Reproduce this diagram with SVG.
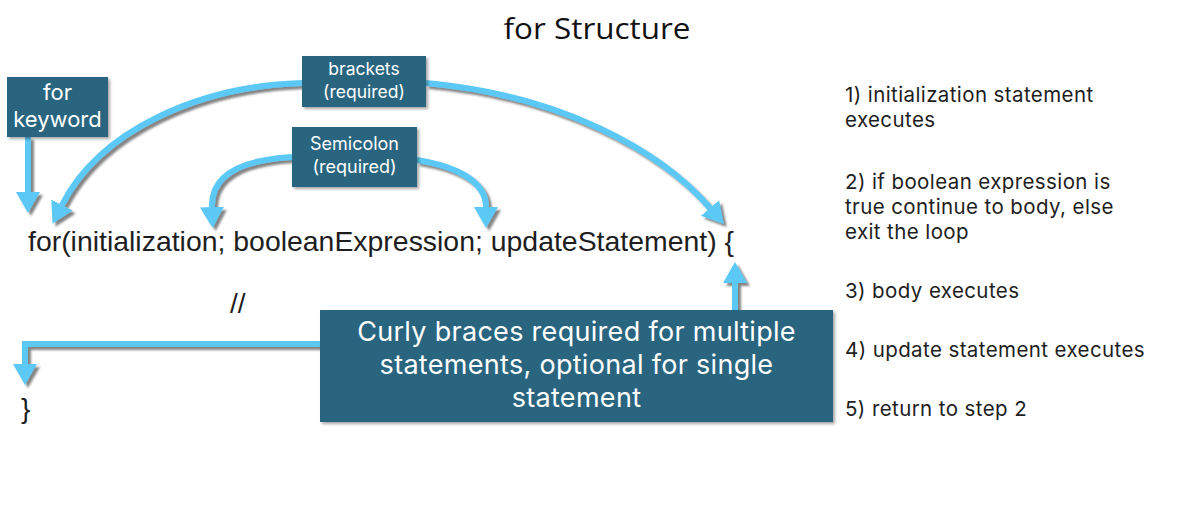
<svg xmlns="http://www.w3.org/2000/svg" width="1194" height="506" viewBox="0 0 1194 506">
<style>
.box{fill:#2b6580;filter:url(#bs);}
.bt{fill:#ffffff;font-family:Inter,"Open Sans",sans-serif;text-anchor:middle;}
.con{fill:none;stroke:#5cc8f5;stroke-width:6;}
.code{fill:#1e1e1e;font-family:"Liberation Sans",Arial,sans-serif;font-size:28px;}
.list{fill:#1e1e1e;font-family:Inter,"Open Sans",sans-serif;font-size:20.5px;letter-spacing:0.4px;}
</style>
<defs>
<filter id="bs" x="-10%" y="-10%" width="130%" height="130%">
<feDropShadow dx="2" dy="2" stdDeviation="1.5" flood-color="#000" flood-opacity="0.35"/>
</filter>
<filter id="as" x="-10%" y="-10%" width="130%" height="130%">
<feDropShadow dx="3" dy="3" stdDeviation="1" flood-color="#333" flood-opacity="0.6"/>
</filter>
<marker id="ah" viewBox="0 -13 22 26" refX="0" refY="0" markerWidth="22" markerHeight="26" markerUnits="userSpaceOnUse" orient="auto">
<path d="M0,-12 L21,0 L0,12 z" fill="#5cc8f5"/>
</marker>
</defs>
<rect width="1194" height="506" fill="#ffffff"/>
<text x="597" y="39" font-family="'Open Sans','Noto Sans',sans-serif" font-size="30" fill="#111" text-anchor="middle" textLength="187" lengthAdjust="spacingAndGlyphs">for Structure</text>

<g id="connectors" filter="url(#as)">
<path class="con" d="M28,137 V192" marker-end="url(#ah)"/>
<path class="con" d="M302,83 C200,86 100,130 62,205" marker-end="url(#ah)"/>
<path class="con" d="M426,83 C560,95 660,150 710,208" marker-end="url(#ah)"/>
<path class="con" d="M292,157 C240,160 211,176 212,207" marker-end="url(#ah)"/>
<path class="con" d="M417,160 C460,167 486,183 486,207" marker-end="url(#ah)"/>
<path class="con" d="M735,310 V283" marker-end="url(#ah)"/>
<path class="con" d="M320,344 H25 V364" marker-end="url(#ah)"/>
</g>

<g id="for-keyword">
<rect class="box" x="7" y="77" width="101" height="60"/>
<text class="bt" x="57.5" y="100" font-size="22">for</text>
<text class="bt" x="57.5" y="127" font-size="22">keyword</text>
</g>
<g id="brackets">
<rect class="box" x="302" y="56" width="124" height="51"/>
<text class="bt" x="364" y="75" font-size="17.5">brackets</text>
<text class="bt" x="364" y="98" font-size="17.5">(required)</text>
</g>
<g id="semicolon">
<rect class="box" x="292" y="127" width="125" height="60"/>
<text class="bt" x="354.5" y="150" font-size="18">Semicolon</text>
<text class="bt" x="354.5" y="173" font-size="18">(required)</text>
</g>
<g id="curly">
<rect class="box" x="320" y="310" width="513" height="112"/>
<text class="bt" x="576.5" y="341" font-size="27" letter-spacing="0.3">Curly braces required for multiple</text>
<text class="bt" x="576.5" y="374" font-size="27" letter-spacing="0.3">statements, optional for single</text>
<text class="bt" x="576.5" y="407" font-size="27" letter-spacing="0.3">statement</text>
</g>

<g id="code">
<text class="code" x="28" y="251" textLength="706" lengthAdjust="spacingAndGlyphs">for(initialization; booleanExpression; updateStatement) {</text>
<text class="code" x="230" y="313" font-size="26">//</text>
<text class="code" x="21" y="418" font-size="26">}</text>
</g>

<g id="steps">
<text class="list" x="845" y="102">1) initialization statement</text>
<text class="list" x="845" y="127">executes</text>
<text class="list" x="845" y="189">2) if boolean expression is</text>
<text class="list" x="845" y="214">true continue to body, else</text>
<text class="list" x="845" y="239">exit the loop</text>
<text class="list" x="845" y="298">3) body executes</text>
<text class="list" x="845" y="357">4) update statement executes</text>
<text class="list" x="845" y="416">5) return to step 2</text>
</g>
</svg>
